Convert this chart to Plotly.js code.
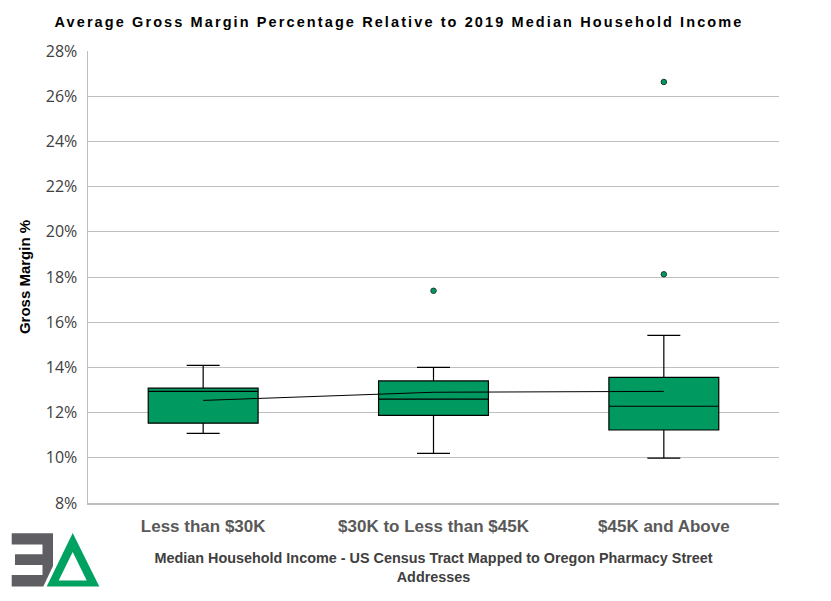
<!DOCTYPE html>
<html>
<head>
<meta charset="utf-8">
<script src="https://cdn.plot.ly/plotly-3.0.1.min.js"></script>
<style>
  html, body { margin: 0; padding: 0; background: #fff; }
  #chart { width: 831px; height: 601px; }
  .gtitle { letter-spacing: 2.1px; }
</style>
</head>
<body>
<div id="chart"></div>
<script>
// ---- data (percent) ----
const categories = ['Less than $30K', '$30K to Less than $45K', '$45K and Above'];
const q1Values = [11.53, 11.88, 11.23];
const medianValues = [12.94, 12.60, 12.28];
const q3Values = [13.08, 13.40, 13.56];
const lowerWhisker = [11.08, 10.20, 9.99];
const upperWhisker = [14.09, 14.00, 15.42];
const meanValues = [12.54, 12.90, 12.94];
const outlierCategories = ['$30K to Less than $45K', '$45K and Above', '$45K and Above'];
const outlierValues = [17.39, 18.12, 26.63];
const yTickValues = [8, 10, 12, 14, 16, 18, 20, 22, 24, 26, 28];

const green = '#00995F';

const boxTrace = {
  type: 'box',
  x: categories,
  q1: q1Values,
  median: medianValues,
  q3: q3Values,
  lowerfence: lowerWhisker,
  upperfence: upperWhisker,
  boxpoints: false,
  width: 0.477,
  whiskerwidth: 0.3,
  fillcolor: green,
  line: { color: '#000000', width: 1.2 },
  hoverinfo: 'skip',
  showlegend: false
};

const meanTrace = {
  type: 'scatter',
  mode: 'lines',
  x: categories,
  y: meanValues,
  line: { color: '#000000', width: 1 },
  hoverinfo: 'skip',
  showlegend: false
};

const outlierTrace = {
  type: 'scatter',
  mode: 'markers',
  x: outlierCategories,
  y: outlierValues,
  marker: { color: green, size: 5.5, line: { color: '#1f3b2e', width: 1 } },
  hoverinfo: 'skip',
  showlegend: false
};

const logoSvg =
  '<svg xmlns="http://www.w3.org/2000/svg" viewBox="0 0 92 56" width="92" height="56">' +
  '<path fill="#5f5f63" d="M1.7 2.3 L43 2.3 L43 35 L33.3 55.7 L1.7 55.7 L1.7 44 L32.5 44 L32.5 34 L5 34 L5 23.3 L32.5 23.3 L32.5 13.5 L1.7 13.5 Z"/>' +
  '<path fill="#00A261" fill-rule="evenodd" d="M62.7 2 L89.3 55.7 L36.7 55.7 Z M62.7 21 L76.7 49.5 L48.7 49.5 Z"/>' +
  '</svg>';
const logoSrc = 'data:image/svg+xml;charset=utf-8,' + encodeURIComponent(logoSvg);

const L = 88, R = 52, T = 50.5, B = 98;
const W = 831, H = 601;
const pw = W - L - R, ph = H - T - B;

const layout = {
  width: W,
  height: H,
  margin: { l: L, r: R, t: T, b: B, pad: 0 },
  paper_bgcolor: '#ffffff',
  plot_bgcolor: '#ffffff',
  title: {
    text: '<b>Average Gross Margin Percentage Relative to 2019 Median Household Income</b>',
    font: { family: 'Liberation Sans, Arial, sans-serif', size: 14.5, color: '#000000' },
    x: 399 / W,
    xref: 'container',
    xanchor: 'center',
    y: 1 - 22 / H,
    yanchor: 'middle'
  },
  xaxis: {
    type: 'category',
    range: [-0.5, 2.5],
    showline: true,
    linecolor: '#bfbfbf',
    linewidth: 1.5,
    showgrid: false,
    ticks: '',
    ticklabelstandoff: 7,
    tickfont: { family: 'Liberation Sans, Arial, sans-serif', size: 17, color: '#595959', weight: 'bold' },
    title: {
      text: '<b>Median Household Income - US Census Tract Mapped to Oregon Pharmacy Street<br>Addresses</b>',
      font: { family: 'Liberation Sans, Arial, sans-serif', size: 14.4, color: '#404040' },
      standoff: 18
    },
    fixedrange: true
  },
  yaxis: {
    range: [8, 28],
    tickvals: yTickValues,
    ticktext: yTickValues.map(v => v + '%'),
    showline: true,
    linecolor: '#bfbfbf',
    linewidth: 1.5,
    showgrid: true,
    gridcolor: '#bfbfbf',
    gridwidth: 1,
    zeroline: false,
    ticks: '',
    ticklabelstandoff: 6,
    tickfont: { family: 'Open Sans, Noto Sans, sans-serif', size: 16, color: '#404040' },
    title: {
      text: '<b>Gross Margin %</b>',
      font: { family: 'Liberation Sans, Arial, sans-serif', size: 15, color: '#000000' },
      standoff: 11
    },
    fixedrange: true
  },
  images: [{
    source: logoSrc,
    xref: 'paper', yref: 'paper',
    x: (10 - L) / pw,
    y: (H - B - 531) / ph,
    sizex: 92 / pw,
    sizey: 56 / ph,
    xanchor: 'left', yanchor: 'top',
    sizing: 'stretch',
    layer: 'above'
  }]
};

Plotly.newPlot('chart', [boxTrace, meanTrace, outlierTrace], layout, { staticPlot: true, displayModeBar: false });
</script>
</body>
</html>
